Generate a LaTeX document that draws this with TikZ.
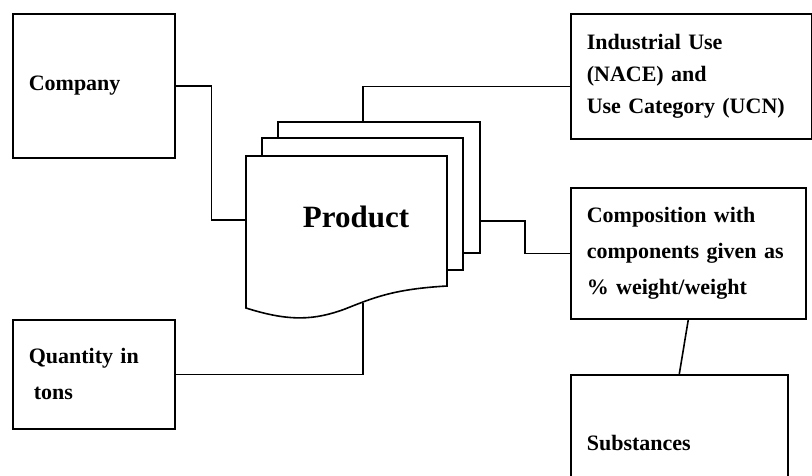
\documentclass[tikz,border=0pt]{standalone}
\usepackage{fontspec}
\setmainfont{Liberation Serif}
\tikzset{
  infobox/.style = {draw=black, line width=1.6pt, anchor=north west,
    align=left, inner xsep=16pt, inner ysep=2pt,
    font=\bfseries\fontsize{22}{36}\selectfont},
  sheet/.style = {draw=black, fill=white, line width=1.6pt},
  link/.style = {draw=black, line width=1.6pt}}

\begin{document}
\begin{tikzpicture}[x=1pt,y=-1pt]
\useasboundingbox (0,0) rectangle (812,475);

\node [infobox, text width=130pt, minimum height=144pt] (company) at (12,13) {Company};
\node [infobox, text width=209pt, minimum height=125pt,
  font=\bfseries\fontsize{22}{32}\selectfont] (industry) at (570,13)
  {Industrial Use\\(NACE) and\\Use Category (UCN)};
\node [infobox, text width=203pt, minimum height=131pt] (composition) at (570,187)
  {Composition with\\components given as\\\% weight/weight};
\node [infobox, text width=130pt, minimum height=109pt] (quantity) at (12,319)
  {Quantity in\\\hspace*{5pt}tons};
\node [infobox, text width=185pt, minimum height=136pt] (substances) at (570,374) {Substances};

% stacked product sheets
\draw [sheet] (278,122) rectangle (480,253);
\draw [sheet] (262,138) rectangle (463,270);
\draw [sheet] (246,156) -- (447,156) -- (447,286)
  .. controls (395,289) and (375,297) .. (345,309)
  .. controls (315,320) and (290,322) .. (246,308) -- cycle;
\node [font=\bfseries\fontsize{31}{31}\selectfont] (product) at (356,217) {Product};

\coordinate (backN) at (363,122);
\coordinate (backE) at (480,221);
\coordinate (frontW) at (246,220);
\coordinate (frontS) at (363,303);

\draw [link] (company.east) -- ++(36,0) |- (frontW);
\draw [link] (backN) |- ([yshift=-10pt]industry.west);
\draw [link] (backE) -- (525,221) |- (composition.west);
\draw [link] (quantity.east) -| (frontS);
\draw [link] (composition.south) -- (substances.north);
\end{tikzpicture}
\end{document}
